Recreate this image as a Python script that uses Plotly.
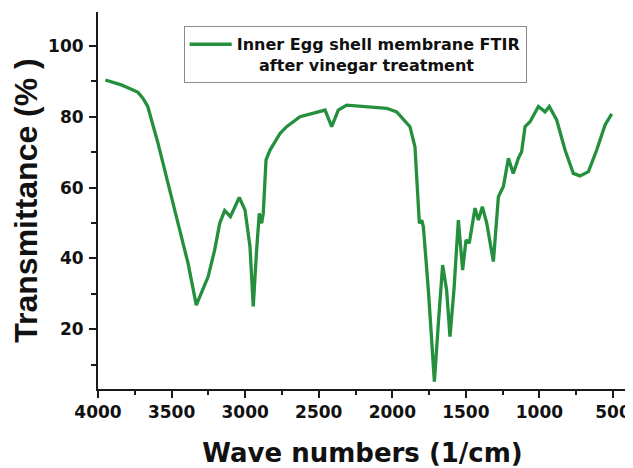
import plotly.graph_objects as go

# Wavenumber (1/cm) and transmittance (%)
wavenumber = [3950, 3842, 3785, 3728, 3694, 3662, 3592, 3524, 3456, 3388,
              3332, 3252, 3207, 3173, 3139, 3100, 3040, 3001, 2967, 2945,
              2922, 2904, 2888, 2877, 2858, 2831, 2763, 2718, 2627, 2457,
              2412, 2367, 2310, 2219, 2083, 2038, 1970, 1880, 1846, 1830,
              1816, 1800, 1789, 1755, 1714, 1687, 1658, 1631, 1608, 1581,
              1551, 1522, 1499, 1477, 1438, 1415, 1388, 1358, 1313, 1279,
              1245, 1211, 1178, 1143, 1121, 1098, 1064, 1007, 962, 933,
              883, 826, 770, 724, 667, 611, 554, 509]
transmittance = [90.4, 89.0, 88.0, 86.9, 85.2, 82.9, 72.5, 61.2, 50.8, 38.6,
                 26.8, 34.8, 42.4, 49.9, 53.5, 51.8, 57.2, 53.7, 43.3, 26.4,
                 42.4, 52.7, 49.9, 52.7, 67.8, 70.6, 75.3, 77.2, 80.0, 81.9,
                 77.2, 81.9, 83.3, 83.0, 82.4, 82.4, 81.4, 77.2, 71.5, 59.3,
                 49.9, 50.8, 49.0, 31.1, 5.2, 21.7, 38.1, 31.1, 17.9, 31.1,
                 50.8, 36.7, 45.2, 44.3, 54.2, 50.8, 54.6, 49.9, 39.1, 57.4,
                 60.3, 68.3, 64.0, 68.3, 70.1, 77.2, 78.6, 82.9, 81.4, 82.9,
                 79.1, 70.6, 64.0, 63.3, 64.5, 70.6, 77.7, 80.8]

series_name = "Inner Egg shell membrane FTIR<br>\u00a0\u00a0\u00a0\u00a0after vinegar treatment"
x_title = "Wave numbers (1/cm)"
y_title = "Transmittance (% )"
x_tickvals = [4000, 3500, 3000, 2500, 2000, 1500, 1000, 500]
y_tickvals = [20, 40, 60, 80, 100]

GREEN = "#248f3c"
AX = "#1a1a1a"
FONT = "DejaVu Sans"

fig = go.Figure()
fig.add_trace(go.Scatter(
    x=wavenumber, y=transmittance, mode="lines", name=series_name,
    line=dict(color=GREEN, width=3.3),
))

fig.update_layout(
    width=625, height=460,
    margin=dict(l=90, r=6, t=4, b=79),
    paper_bgcolor="white", plot_bgcolor="white",
    font=dict(family=FONT, color="#111"),
    showlegend=True,
    legend=dict(
        x=0.162, y=0.962, xanchor="left", yanchor="top",
        bgcolor="white", bordercolor="#8a8a8a", borderwidth=1,
        font=dict(family=FONT, size=16, color="#111", weight="bold"),
        valign="top", tracegroupgap=0, itemwidth=42,
    ),
    xaxis=dict(
        range=[4000, 405], tickvals=x_tickvals,
        ticks="outside", ticklen=7, tickwidth=2, tickcolor=AX,
        minor=dict(dtick=250, tick0=0, ticks="outside", ticklen=4, tickwidth=2, tickcolor=AX),
        showline=True, linewidth=2, linecolor=AX, showgrid=False, zeroline=False,
        tickfont=dict(family=FONT, size=17, color="#111", weight="bold"),
        title=dict(text=x_title, font=dict(family=FONT, size=26, color="#111", weight="bold"), standoff=23),
        automargin=False,
    ),
    yaxis=dict(
        range=[3.1, 109.6], tickvals=y_tickvals,
        ticks="outside", ticklen=7, tickwidth=2, tickcolor=AX,
        minor=dict(dtick=10, tick0=0, ticks="outside", ticklen=5, tickwidth=2, tickcolor=AX),
        showline=True, linewidth=2, linecolor=AX, showgrid=False, zeroline=False,
        tickfont=dict(family=FONT, size=17, color="#111", weight="bold"),
        ticklabelstandoff=2,
        title=dict(text=y_title, font=dict(family="Liberation Sans", size=32, color="#111", weight="bold"), standoff=13),
        automargin=False,
    ),
    xaxis2=dict(
        overlaying="x", anchor="y", side="top", range=[0, 10], dtick=1, tick0=0,
        ticks="inside", ticklen=5, tickwidth=2, tickcolor=AX, showticklabels=False,
        showline=True, linewidth=2, linecolor=AX, showgrid=False, zeroline=False,
    ),
    yaxis2=dict(
        overlaying="y", anchor="x", side="right", range=[0, 10], dtick=1, tick0=0,
        ticks="inside", ticklen=5, tickwidth=2, tickcolor=AX, showticklabels=False,
        showline=True, linewidth=2, linecolor=AX, showgrid=False, zeroline=False,
    ),
)

fig.write_html("out.html")
